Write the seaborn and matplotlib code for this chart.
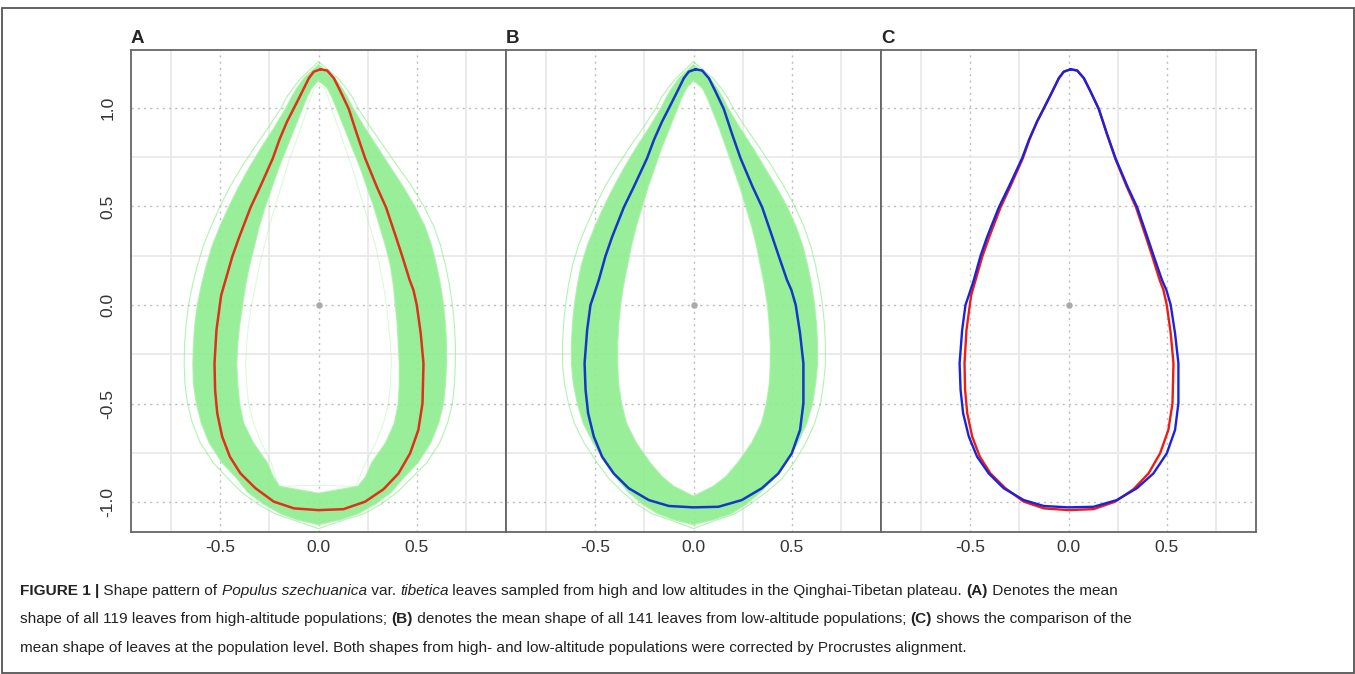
import numpy as np
import matplotlib
matplotlib.use('Agg')
import matplotlib.pyplot as plt
from matplotlib.path import Path
from matplotlib.patches import PathPatch, Rectangle
import seaborn as sns

# mean outlines, traced counter-clockwise from the apex
mean_x_high = [0.010, -0.024, -0.049, -0.074, -0.112, -0.160, -0.198, -0.232, -0.296, -0.345, -0.402, -0.437,
               -0.472, -0.494, -0.501, -0.518, -0.528, -0.525, -0.514, -0.489, -0.450, -0.396, -0.320, -0.227,
               -0.125, 0.000, 0.127, 0.237, 0.330, 0.406, 0.465, 0.507, 0.528, 0.533, 0.519, 0.499, 0.482,
               0.463, 0.425, 0.393, 0.343, 0.296, 0.237, 0.194, 0.154, 0.112, 0.078, 0.044]
mean_y_high = [1.196, 1.184, 1.151, 1.100, 1.024, 0.930, 0.840, 0.744, 0.600, 0.495, 0.346, 0.248,
               0.126, 0.050, 0.000, -0.127, -0.296, -0.431, -0.550, -0.668, -0.770, -0.855, -0.930, -0.998,
               -1.032, -1.041, -1.036, -0.998, -0.935, -0.855, -0.753, -0.634, -0.499, -0.296, -0.144, 0.000, 0.076,
               0.126, 0.248, 0.346, 0.495, 0.600, 0.744, 0.870, 0.994, 1.083, 1.151, 1.190]
mean_x_low = [0.010, -0.024, -0.049, -0.074, -0.112, -0.160, -0.200, -0.236, -0.303, -0.354, -0.413, -0.447,
              -0.481, -0.506, -0.523, -0.540, -0.553, -0.548, -0.535, -0.506, -0.464, -0.405, -0.329, -0.227,
              -0.125, 0.000, 0.127, 0.245, 0.347, 0.431, 0.499, 0.541, 0.558, 0.558, 0.541, 0.519, 0.497,
              0.475, 0.433, 0.400, 0.349, 0.300, 0.239, 0.195, 0.154, 0.112, 0.078, 0.044]
mean_y_low = [1.196, 1.184, 1.151, 1.100, 1.024, 0.930, 0.840, 0.744, 0.600, 0.495, 0.346, 0.248,
              0.126, 0.050, 0.000, -0.127, -0.296, -0.431, -0.550, -0.668, -0.770, -0.855, -0.930, -0.990,
              -1.020, -1.027, -1.024, -0.990, -0.930, -0.855, -0.753, -0.634, -0.499, -0.296, -0.144, 0.000, 0.076,
              0.126, 0.248, 0.346, 0.495, 0.600, 0.744, 0.870, 0.994, 1.083, 1.151, 1.190]

# envelopes of the individual leaf outlines (left / right edge at each level)
env_y_out = [1.15, 1.10, 1.05, 1.00, 0.90, 0.80, 0.70, 0.60, 0.50, 0.40, 0.30, 0.20, 0.10, 0.00,
             -0.10, -0.20, -0.30, -0.40, -0.50, -0.60, -0.70, -0.80, -0.88, -0.95, -1.01, -1.06, -1.09]
high_out_l = [-0.075, -0.11, -0.14, -0.165, -0.225, -0.29, -0.35, -0.405, -0.455, -0.50, -0.54, -0.57, -0.595, -0.615,
              -0.628, -0.635, -0.638, -0.635, -0.62, -0.595, -0.555, -0.49, -0.415, -0.36, -0.28, -0.19, -0.11]
high_out_r = [0.085, 0.12, 0.15, 0.175, 0.235, 0.30, 0.365, 0.43, 0.49, 0.54, 0.575, 0.60, 0.62, 0.635,
              0.645, 0.65, 0.65, 0.645, 0.635, 0.61, 0.57, 0.505, 0.43, 0.37, 0.29, 0.20, 0.11]
high_faint_l = [-0.09, -0.13, -0.165, -0.19, -0.255, -0.325, -0.39, -0.45, -0.50, -0.545, -0.585, -0.615, -0.64, -0.66,
                -0.672, -0.68, -0.682, -0.678, -0.665, -0.64, -0.60, -0.535, -0.46, -0.39, -0.31, -0.22, -0.13]
high_faint_r = [0.10, 0.14, 0.175, 0.20, 0.265, 0.335, 0.405, 0.475, 0.535, 0.585, 0.62, 0.645, 0.665, 0.68,
                0.69, 0.695, 0.695, 0.69, 0.68, 0.655, 0.615, 0.55, 0.47, 0.40, 0.32, 0.23, 0.13]
low_out_l = [-0.075, -0.11, -0.14, -0.165, -0.225, -0.29, -0.35, -0.405, -0.455, -0.50, -0.54, -0.57, -0.59, -0.605,
             -0.615, -0.62, -0.62, -0.61, -0.59, -0.56, -0.51, -0.45, -0.39, -0.33, -0.26, -0.18, -0.10]
low_out_r = [0.085, 0.12, 0.15, 0.175, 0.235, 0.30, 0.36, 0.42, 0.475, 0.52, 0.555, 0.58, 0.60, 0.615,
             0.625, 0.63, 0.63, 0.62, 0.605, 0.575, 0.53, 0.47, 0.41, 0.34, 0.27, 0.19, 0.10]
low_faint_l = [-0.09, -0.13, -0.165, -0.19, -0.255, -0.325, -0.39, -0.45, -0.50, -0.545, -0.585, -0.615, -0.635, -0.65,
               -0.66, -0.665, -0.665, -0.655, -0.635, -0.605, -0.555, -0.49, -0.43, -0.36, -0.29, -0.21, -0.12]
low_faint_r = [0.10, 0.14, 0.175, 0.20, 0.265, 0.335, 0.40, 0.46, 0.515, 0.56, 0.595, 0.62, 0.64, 0.655,
               0.665, 0.67, 0.67, 0.66, 0.645, 0.615, 0.57, 0.51, 0.45, 0.37, 0.29, 0.21, 0.12]

env_y_in = [1.10, 1.05, 1.00, 0.90, 0.80, 0.70, 0.60, 0.50, 0.40, 0.30, 0.20, 0.10, 0.00,
            -0.10, -0.20, -0.30, -0.40, -0.50, -0.60, -0.70, -0.80, -0.87, -0.92]
high_in_l = [-0.035, -0.06, -0.08, -0.12, -0.16, -0.20, -0.235, -0.27, -0.30, -0.325, -0.35, -0.37, -0.385,
             -0.40, -0.41, -0.415, -0.41, -0.40, -0.38, -0.33, -0.26, -0.23, -0.20]
high_in_r = [0.045, 0.07, 0.09, 0.13, 0.17, 0.21, 0.245, 0.28, 0.31, 0.34, 0.365, 0.38, 0.39,
             0.40, 0.405, 0.41, 0.41, 0.405, 0.385, 0.34, 0.27, 0.24, 0.20]
high_faint_in_l = [-0.02, -0.04, -0.055, -0.09, -0.125, -0.16, -0.19, -0.22, -0.25, -0.275, -0.30, -0.32, -0.34,
                   -0.355, -0.365, -0.37, -0.365, -0.355, -0.33, -0.29, -0.24, -0.22, -0.20]
high_faint_in_r = [0.03, 0.05, 0.065, 0.10, 0.135, 0.17, 0.20, 0.23, 0.26, 0.29, 0.31, 0.33, 0.345,
                   0.355, 0.365, 0.37, 0.365, 0.355, 0.33, 0.29, 0.24, 0.21, 0.19]
low_in_l = [-0.035, -0.06, -0.08, -0.12, -0.16, -0.195, -0.23, -0.26, -0.29, -0.315, -0.335, -0.355, -0.37,
            -0.38, -0.385, -0.385, -0.38, -0.365, -0.34, -0.29, -0.22, -0.16, -0.10]
low_in_r = [0.045, 0.07, 0.09, 0.13, 0.165, 0.20, 0.235, 0.265, 0.295, 0.32, 0.34, 0.36, 0.375,
            0.385, 0.39, 0.39, 0.385, 0.37, 0.345, 0.295, 0.225, 0.165, 0.10]

panel_labels = ['A', 'B', 'C']
x_ticks = [-0.5, 0.0, 0.5]
y_ticks = [-1.0, -0.5, 0.0, 0.5, 1.0]

W, H = 1355, 674
sns.set_style('white')
plt.rcParams['font.family'] = ['Liberation Sans', 'DejaVu Sans']

fig = plt.figure(figsize=(W / 100, H / 100), dpi=100)


def ring(top, ys, left, right, bottom):
    xs = [0.0] + list(left) + [0.0] + list(right)[::-1]
    yy = [top] + list(ys) + [bottom] + list(ys)[::-1]
    return np.array(xs + xs[:1]), np.array(yy + yy[:1])


def band(ax, outer, inner, color):
    ox, oy = outer
    ix, iy = inner
    verts = list(zip(ox, oy)) + list(zip(ix[::-1], iy[::-1]))
    codes = ([Path.MOVETO] + [Path.LINETO] * (len(ox) - 2) + [Path.CLOSEPOLY] +
             [Path.MOVETO] + [Path.LINETO] * (len(ix) - 2) + [Path.CLOSEPOLY])
    ax.add_patch(PathPatch(Path(verts, codes), facecolor=color, edgecolor='none', alpha=0.92, zorder=2))


def closed(x, y):
    return list(x) + [x[0]], list(y) + [y[0]]


green = '#90EE90'
lefts = [131, 506, 881]
axes = []
for i, l in enumerate(lefts):
    ax = fig.add_axes([l / W, 1 - 532 / H, 375 / W, 482 / H])
    ax.set_xlim(-0.952, 0.952)
    ax.set_ylim(-1.152, 1.294)
    ax.set_xticks(x_ticks)
    ax.set_yticks(y_ticks)
    ax.set_xticks([-0.75, -0.25, 0.25, 0.75], minor=True)
    ax.set_yticks([-0.75, -0.25, 0.25, 0.75], minor=True)
    ax.grid(which='major', ls=(0, (1.5, 3)), color='#bdbdbd', lw=1.0)
    ax.grid(which='minor', ls='-', color='#e8e8e8', lw=1.2)
    ax.set_axisbelow(True)
    ax.tick_params(which='minor', length=0)
    ax.tick_params(which='major', direction='in', length=6.5, width=1.3, color='#333333',
                   labelsize=12.5, labelcolor='#333333')
    ax.tick_params(axis='x', pad=6)
    ax.tick_params(axis='y', pad=11, labelrotation=90)
    ax.set_xticklabels(['%.1f' % v for v in x_ticks])
    if i == 0:
        ax.set_yticklabels(['%.1f' % v for v in y_ticks], va='center')
    else:
        ax.set_yticklabels([])
    for s in ax.spines.values():
        s.set_color('#666666')
        s.set_linewidth(1.3)
    fig.text(l / W, 1 - 43 / H, panel_labels[i], fontsize=13.5, fontweight='bold',
             va='baseline', ha='left')
    axes.append(ax)

groups = [
    (axes[0], (high_out_l, high_out_r, 1.22, -1.115), (high_in_l, high_in_r, 1.14, -0.955),
     (high_faint_l, high_faint_r, 1.235, -1.135)),
    (axes[1], (low_out_l, low_out_r, 1.22, -1.115), (low_in_l, low_in_r, 1.14, -0.97),
     (low_faint_l, low_faint_r, 1.235, -1.135)),
]
for ax, out, inn, faint in groups:
    outer = ring(out[2], env_y_out, out[0], out[1], out[3])
    inner = ring(inn[2], env_y_in, inn[0], inn[1], inn[3])
    fa = ring(faint[2], env_y_out, faint[0], faint[1], faint[3])
    band(ax, outer, inner, green)
    ax.plot(fa[0], fa[1], color=green, lw=0.8, alpha=0.7, zorder=2)
    ax.plot(outer[0], outer[1], color='#a8f0a8', lw=0.9, alpha=0.8, zorder=2)
    ax.plot(inner[0], inner[1], color='#a8f0a8', lw=0.9, alpha=0.8, zorder=2)

fi = ring(1.12, env_y_in, high_faint_in_l, high_faint_in_r, -0.915)
axes[0].plot(fi[0], fi[1], color=green, lw=0.7, alpha=0.35, zorder=2)

red, blue = '#ee1c12', '#1a22e0'
hx, hy = closed(mean_x_high, mean_y_high)
lx, ly = closed(mean_x_low, mean_y_low)
sns.lineplot(x=hx, y=hy, sort=False, estimator=None, color='#e0301a', lw=1.8, ax=axes[0], zorder=3)
sns.lineplot(x=lx, y=ly, sort=False, estimator=None, color='#1438c8', lw=1.8, ax=axes[1], zorder=3)
sns.lineplot(x=hx, y=hy, sort=False, estimator=None, color=red, lw=1.7, ax=axes[2], zorder=3)
sns.lineplot(x=lx, y=ly, sort=False, estimator=None, color=blue, lw=1.7, ax=axes[2], zorder=4)
for ax in axes:
    ax.scatter([0], [0], s=22, color='#aaaaaa', zorder=5, linewidths=0)
    ax.set_xlabel('')
    ax.set_ylabel('')

# outer frame around figure + caption
fig.patches.append(Rectangle((1.5 / W, 1 - 672.5 / H), 1352 / W, 664.5 / H, transform=fig.transFigure,
                             fill=False, edgecolor='#555555', lw=1.3))

renderer = fig.canvas.get_renderer()


def text_width(s, kw, size):
    t1 = fig.text(0, 0, s + 'x', fontsize=size, **kw)
    t2 = fig.text(0, 0, 'x', fontsize=size, **kw)
    w = t1.get_window_extent(renderer).width - t2.get_window_extent(renderer).width
    t1.remove()
    t2.remove()
    return w


def rich_line(x, y, parts, size=11.05):
    for s, kw in parts:
        fig.text(x / W, 1 - y / H, s, fontsize=size, va='baseline', ha='left', color='#222222', **kw)
        x += text_width(s, kw, size)


B = {'fontweight': 'bold'}
I = {'fontstyle': 'italic'}
N = {}
rich_line(20, 595, [('FIGURE 1 |', B), (' Shape pattern of ', N), ('Populus szechuanica', I), (' var. ', N),
                    ('tibetica', I), (' leaves sampled from high and low altitudes in the Qinghai-Tibetan plateau. ', N),
                    ('(A)', B), (' Denotes the mean', N)])
rich_line(20, 623.5, [('shape of all 119 leaves from high-altitude populations; ', N), ('(B)', B),
                      (' denotes the mean shape of all 141 leaves from low-altitude populations; ', N), ('(C)', B),
                      (' shows the comparison of the', N)])
rich_line(20, 652, [('mean shape of leaves at the population level. Both shapes from high- and low-altitude '
                     'populations were corrected by Procrustes alignment.', N)])

fig.savefig('out.png', dpi=100)
